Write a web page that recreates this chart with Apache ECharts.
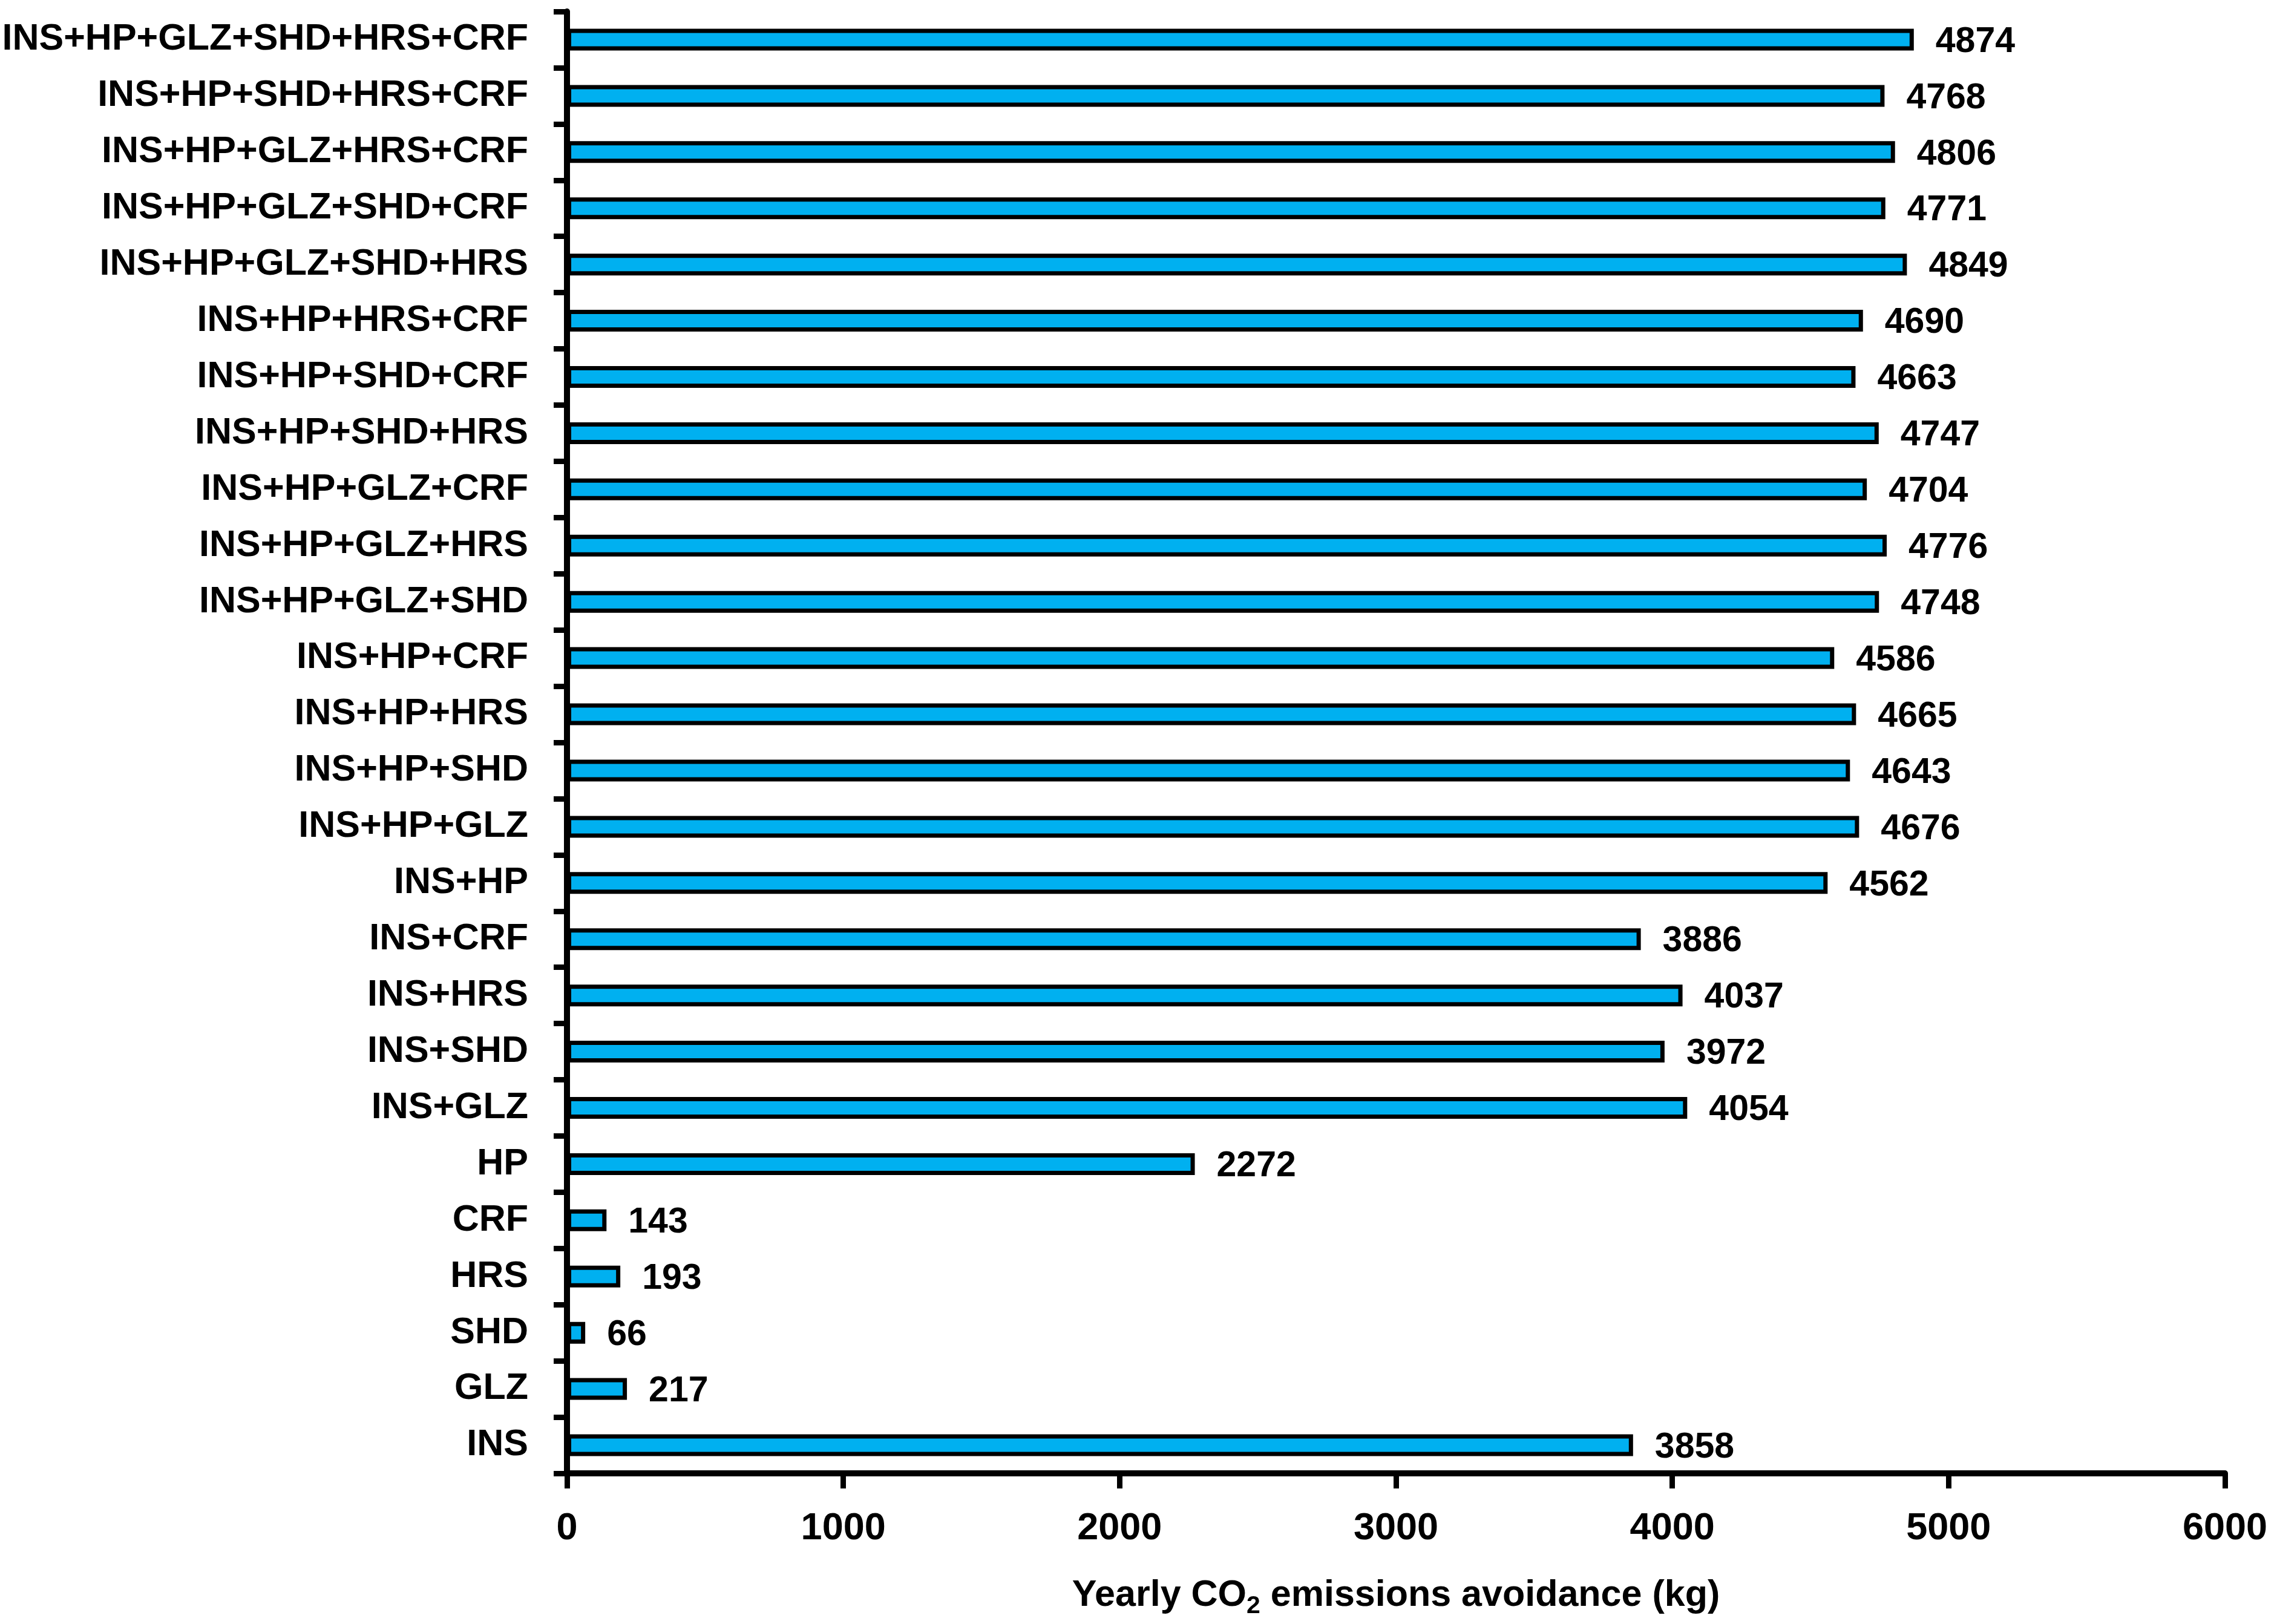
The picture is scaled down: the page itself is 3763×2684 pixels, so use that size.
<!DOCTYPE html>
<html>
<head>
<meta charset="utf-8">
<script src="https://cdn.jsdelivr.net/npm/echarts@6.0.0/dist/echarts.min.js"></script>
<style>
html,body{margin:0;padding:0;background:#fff;}
#chart{width:3763px;height:2684px;}
</style>
</head>
<body>
<div id="chart"></div>
<script>
// Categories listed bottom-to-top
var categories = [
  "INS", "GLZ", "SHD", "HRS", "CRF", "HP",
  "INS+GLZ", "INS+SHD", "INS+HRS", "INS+CRF", "INS+HP",
  "INS+HP+GLZ", "INS+HP+SHD", "INS+HP+HRS", "INS+HP+CRF",
  "INS+HP+GLZ+SHD", "INS+HP+GLZ+HRS", "INS+HP+GLZ+CRF",
  "INS+HP+SHD+HRS", "INS+HP+SHD+CRF", "INS+HP+HRS+CRF",
  "INS+HP+GLZ+SHD+HRS", "INS+HP+GLZ+SHD+CRF", "INS+HP+GLZ+HRS+CRF",
  "INS+HP+SHD+HRS+CRF", "INS+HP+GLZ+SHD+HRS+CRF"
];
var values = [
  3858, 217, 66, 193, 143, 2272,
  4054, 3972, 4037, 3886, 4562,
  4676, 4643, 4665, 4586,
  4748, 4776, 4704,
  4747, 4663, 4690,
  4849, 4771, 4806,
  4768, 4874
];
var xTicks = [0, 1000, 2000, 3000, 4000, 5000, 6000];

var chart = echarts.init(document.getElementById('chart'), null, {renderer: 'canvas'});
var baseFont = "'Liberation Sans', Arial, sans-serif";

chart.setOption({
  animation: false,
  backgroundColor: '#ffffff',
  grid: {left: 937, right: 86, top: 19, bottom: 249, containLabel: false, outerBoundsMode: 'none'},
  xAxis: {
    type: 'value',
    min: xTicks[0],
    max: xTicks[xTicks.length - 1],
    interval: 1000,
    name: '{a|Yearly CO}{s|2}{a| emissions avoidance (kg)}',
    nameLocation: 'middle',
    nameGap: 165,
    nameTextStyle: {
      rich: {
        a: {fontFamily: baseFont, fontWeight: 'bold', fontSize: 61, color: '#000'},
        s: {fontFamily: baseFont, fontWeight: 'bold', fontSize: 41, color: '#000', padding: [34, 0, 0, 0]}
      }
    },
    splitLine: {show: false},
    axisLine: {show: true, lineStyle: {color: '#000', width: 10}},
    axisTick: {show: true, inside: false, length: 25, lineStyle: {color: '#000', width: 9}},
    axisLabel: {
      margin: 60,
      fontFamily: baseFont, fontWeight: 'bold', fontSize: 63, color: '#000',
      formatter: function (v) { return String(v); }
    }
  },
  yAxis: {
    type: 'category',
    data: categories,
    axisLine: {show: true, lineStyle: {color: '#000', width: 10}},
    axisTick: {show: true, inside: false, length: 22, alignWithLabel: false, lineStyle: {color: '#000', width: 9}},
    axisLabel: {
      margin: 64,
      interval: 0,
      fontFamily: baseFont, fontWeight: 'bold', fontSize: 61, color: '#000'
    },
    splitLine: {show: false}
  },
  series: [{
    type: 'bar',
    data: values,
    barWidth: 36,
    itemStyle: {color: '#00B0F0', borderColor: '#000', borderWidth: 7},
    label: {
      show: true,
      position: 'right',
      distance: 36,
      offset: [0, 4],
      fontFamily: baseFont, fontWeight: 'bold', fontSize: 59, color: '#000'
    }
  }]
});
</script>
</body>
</html>
